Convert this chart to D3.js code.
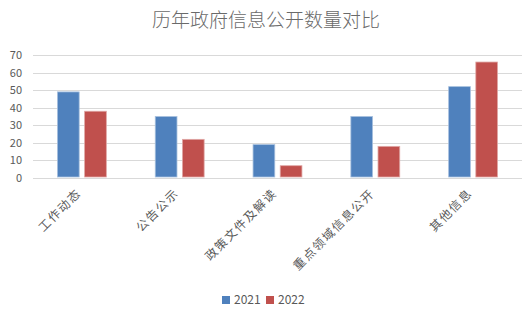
<!DOCTYPE html>
<html>
<head>
<meta charset="utf-8">
<script src="https://cdn.jsdelivr.net/npm/d3@7"></script>
<style>
  body { margin: 0; background: #fff; }
  text { font-family: "Noto Sans CJK SC", "Noto Sans", sans-serif; }
</style>
</head>
<body>
<div id="chart"></div>
<script>
// data
const categories = ["工作动态", "公告公示", "政策文件及解读", "重点领域信息公开", "其他信息"];
const years = ["2021", "2022"];
const values2021 = [49, 35, 19, 35, 52];
const values2022 = [38, 22, 7, 18, 66];
const yTicks = [0, 10, 20, 30, 40, 50, 60, 70];
const colors = ["#4F81BD", "#C0504D"];
const strokes = ["#A7C0DE", "#E0A8A6"];

const width = 532, height = 314;
const margin = {top: 55, right: 10, bottom: 136, left: 33};

const svg = d3.select("#chart").append("svg")
    .attr("width", width)
    .attr("height", height);

svg.append("text")
    .attr("x", 266)
    .attr("y", 27)
    .attr("text-anchor", "middle")
    .attr("font-size", 19)
    .attr("font-weight", 300)
    .attr("fill", "#6a6a6a")
    .text("历年政府信息公开数量对比");

const g = svg.append("g")
    .attr("transform", "translate(" + margin.left + "," + margin.top + ")");

const w = width - margin.left - margin.right;
const h = height - margin.top - margin.bottom;

const x = d3.scaleBand()
    .domain(categories)
    .range([0, w])
    .paddingInner(0.5)
    .paddingOuter(0.25);

const x1 = d3.scaleBand()
    .domain(years)
    .range([0, x.bandwidth()])
    .paddingInner(0.2);

const y = d3.scaleLinear()
    .domain([0, 70])
    .range([h, 0]);

// gridlines
g.selectAll(".grid")
    .data(yTicks)
    .enter().append("line")
    .attr("class", "grid")
    .attr("x1", 0)
    .attr("x2", w)
    .attr("y1", d => Math.round(y(d)) + 0.5)
    .attr("y2", d => Math.round(y(d)) + 0.5)
    .attr("stroke", "#D9D9D9")
    .attr("stroke-width", 1);

// y labels
g.selectAll(".ylab")
    .data(yTicks)
    .enter().append("text")
    .attr("x", -11)
    .attr("y", d => y(d) + 4)
    .attr("text-anchor", "end")
    .attr("font-size", 11)
    .attr("fill", "#595959")
    .text(d => d);

const series = [values2021, values2022];
const rows = categories.map((c, i) => ({
    cat: c,
    vals: years.map((yr, k) => ({year: yr, k: k, v: series[k][i]}))
}));

const groups = g.selectAll(".grp")
    .data(rows)
    .enter().append("g")
    .attr("transform", d => "translate(" + x(d.cat) + ",0)");

groups.selectAll("rect")
    .data(d => d.vals)
    .enter().append("rect")
    .attr("x", d => x1(d.year))
    .attr("y", d => y(d.v))
    .attr("width", x1.bandwidth())
    .attr("height", d => h - y(d.v) - 1)
    .attr("fill", d => colors[d.k])
    .attr("stroke", d => strokes[d.k])
    .attr("stroke-width", 0.8);

// x labels, rotated
g.selectAll(".xlab")
    .data(categories)
    .enter().append("text")
    .attr("transform", d => "translate(" + (x(d) + x.bandwidth() / 2) + "," + (h + 16) + ") rotate(-45)")
    .attr("text-anchor", "end")
    .attr("font-size", 12)
    .attr("letter-spacing", 1.6)
    .attr("fill", "#595959")
    .text(d => d);

// legend
const legend = svg.append("g")
    .attr("transform", "translate(222,296)");

const item = legend.selectAll("g")
    .data(years)
    .enter().append("g")
    .attr("transform", (d, i) => "translate(" + (i * 44) + ",0)");

item.append("rect")
    .attr("width", 8)
    .attr("height", 8)
    .attr("fill", (d, i) => colors[i]);

item.append("text")
    .attr("x", 12)
    .attr("y", 8)
    .attr("font-size", 12)
    .attr("fill", "#595959")
    .text(d => d);
</script>
</body>
</html>
